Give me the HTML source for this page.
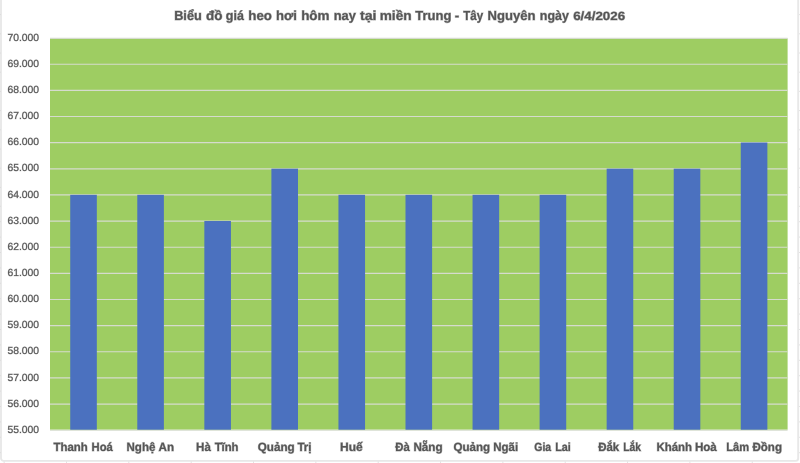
<!DOCTYPE html>
<html lang="vi">
<head>
<meta charset="utf-8">
<title>Biểu đồ giá heo hơi hôm nay tại miền Trung - Tây Nguyên ngày 6/4/2026</title>
<style>
html,body{margin:0;padding:0;background:#fff;}
body{width:800px;height:463px;overflow:hidden;position:relative;font-family:"Liberation Sans",sans-serif;}
svg{display:block;position:absolute;left:0;top:0;}
text{font-family:"Liberation Sans",sans-serif;fill:#555555;stroke:#555555;stroke-opacity:0.45;paint-order:stroke fill;white-space:pre;text-rendering:geometricPrecision;}
.t{font-weight:bold;font-size:13.2px;stroke-width:0.9px;}
.tb{font-size:12.0px;}
.y{font-size:10.3px;stroke-width:0.6px;}
.x{font-weight:bold;font-size:11.9px;stroke-width:0.9px;}
</style>
</head>
<body>
<svg width="800" height="463" viewBox="0 0 800 463">
<rect x="0" y="0" width="800" height="463" fill="#ffffff"/>
<g id="ticks" stroke="#E2E2E2" stroke-width="1">
<line x1="4.16" y1="461" x2="4.16" y2="463"/>
<line x1="66.50" y1="461" x2="66.50" y2="463"/>
<line x1="128.84" y1="461" x2="128.84" y2="463"/>
<line x1="191.18" y1="461" x2="191.18" y2="463"/>
<line x1="253.52" y1="461" x2="253.52" y2="463"/>
<line x1="315.86" y1="461" x2="315.86" y2="463"/>
<line x1="378.20" y1="461" x2="378.20" y2="463"/>
<line x1="440.54" y1="461" x2="440.54" y2="463"/>
<line x1="502.88" y1="461" x2="502.88" y2="463"/>
<line x1="565.22" y1="461" x2="565.22" y2="463"/>
<line x1="627.56" y1="461" x2="627.56" y2="463"/>
<line x1="689.90" y1="461" x2="689.90" y2="463"/>
<line x1="752.24" y1="461" x2="752.24" y2="463"/>
<line x1="798" y1="14.60" x2="800" y2="14.60"/>
<line x1="798" y1="33.80" x2="800" y2="33.80"/>
<line x1="798" y1="53.00" x2="800" y2="53.00"/>
<line x1="798" y1="72.20" x2="800" y2="72.20"/>
<line x1="798" y1="91.40" x2="800" y2="91.40"/>
<line x1="798" y1="110.60" x2="800" y2="110.60"/>
<line x1="798" y1="129.80" x2="800" y2="129.80"/>
<line x1="798" y1="149.00" x2="800" y2="149.00"/>
<line x1="798" y1="168.20" x2="800" y2="168.20"/>
<line x1="798" y1="187.40" x2="800" y2="187.40"/>
<line x1="798" y1="206.30" x2="800" y2="206.30"/>
<line x1="798" y1="221.70" x2="800" y2="221.70"/>
<line x1="798" y1="237.10" x2="800" y2="237.10"/>
<line x1="798" y1="252.50" x2="800" y2="252.50"/>
<line x1="798" y1="267.90" x2="800" y2="267.90"/>
<line x1="798" y1="283.30" x2="800" y2="283.30"/>
<line x1="798" y1="298.70" x2="800" y2="298.70"/>
<line x1="798" y1="314.10" x2="800" y2="314.10"/>
<line x1="798" y1="329.50" x2="800" y2="329.50"/>
<line x1="798" y1="344.90" x2="800" y2="344.90"/>
<line x1="798" y1="360.30" x2="800" y2="360.30"/>
<line x1="798" y1="375.70" x2="800" y2="375.70"/>
<line x1="798" y1="391.10" x2="800" y2="391.10"/>
<line x1="798" y1="406.50" x2="800" y2="406.50"/>
<line x1="798" y1="421.90" x2="800" y2="421.90"/>
<line x1="798" y1="437.30" x2="800" y2="437.30"/>
<line x1="798" y1="452.70" x2="800" y2="452.70"/>
</g>
<rect id="frame" x="1.0" y="-8" width="797.2" height="468.85" rx="2.6" ry="2.6" fill="#ffffff" stroke="#E8E8E8" stroke-width="1.9"/>
<g id="lticks" stroke="#DCDCDC" stroke-width="1"><line x1="0" y1="14.60" x2="1" y2="14.60"/><line x1="0" y1="33.80" x2="1" y2="33.80"/><line x1="0" y1="53.00" x2="1" y2="53.00"/><line x1="0" y1="72.20" x2="1" y2="72.20"/><line x1="0" y1="91.40" x2="1" y2="91.40"/><line x1="0" y1="110.60" x2="1" y2="110.60"/><line x1="0" y1="129.80" x2="1" y2="129.80"/><line x1="0" y1="149.00" x2="1" y2="149.00"/><line x1="0" y1="168.20" x2="1" y2="168.20"/><line x1="0" y1="187.40" x2="1" y2="187.40"/><line x1="0" y1="206.30" x2="1" y2="206.30"/><line x1="0" y1="221.70" x2="1" y2="221.70"/><line x1="0" y1="237.10" x2="1" y2="237.10"/><line x1="0" y1="252.50" x2="1" y2="252.50"/><line x1="0" y1="267.90" x2="1" y2="267.90"/><line x1="0" y1="283.30" x2="1" y2="283.30"/><line x1="0" y1="298.70" x2="1" y2="298.70"/><line x1="0" y1="314.10" x2="1" y2="314.10"/><line x1="0" y1="329.50" x2="1" y2="329.50"/><line x1="0" y1="344.90" x2="1" y2="344.90"/><line x1="0" y1="360.30" x2="1" y2="360.30"/><line x1="0" y1="375.70" x2="1" y2="375.70"/><line x1="0" y1="391.10" x2="1" y2="391.10"/><line x1="0" y1="406.50" x2="1" y2="406.50"/><line x1="0" y1="421.90" x2="1" y2="421.90"/><line x1="0" y1="437.30" x2="1" y2="437.30"/><line x1="0" y1="452.70" x2="1" y2="452.70"/></g>
<rect id="plot" x="50.0" y="38.5" width="737.60" height="391.20" fill="#9ECD62"/>
<g id="grid" stroke="#D5DBCD" stroke-width="1.15">
<line x1="50.0" y1="38.40" x2="787.6" y2="38.40"/>
<line x1="50.0" y1="64.24" x2="787.6" y2="64.24"/>
<line x1="50.0" y1="90.38" x2="787.6" y2="90.38"/>
<line x1="50.0" y1="116.52" x2="787.6" y2="116.52"/>
<line x1="50.0" y1="142.66" x2="787.6" y2="142.66"/>
<line x1="50.0" y1="168.80" x2="787.6" y2="168.80"/>
<line x1="50.0" y1="194.94" x2="787.6" y2="194.94"/>
<line x1="50.0" y1="221.08" x2="787.6" y2="221.08"/>
<line x1="50.0" y1="247.22" x2="787.6" y2="247.22"/>
<line x1="50.0" y1="273.36" x2="787.6" y2="273.36"/>
<line x1="50.0" y1="299.50" x2="787.6" y2="299.50"/>
<line x1="50.0" y1="325.64" x2="787.6" y2="325.64"/>
<line x1="50.0" y1="351.78" x2="787.6" y2="351.78"/>
<line x1="50.0" y1="377.92" x2="787.6" y2="377.92"/>
<line x1="50.0" y1="404.06" x2="787.6" y2="404.06"/>
<line x1="50.0" y1="430.20" x2="787.6" y2="430.20"/>
</g>
<g id="bars" fill="#4B71BF">
<rect x="70.23" y="194.84" width="26.6" height="234.86"/>
<rect x="137.28" y="194.84" width="26.6" height="234.86"/>
<rect x="204.34" y="220.98" width="26.6" height="208.72"/>
<rect x="271.39" y="168.70" width="26.6" height="261.00"/>
<rect x="338.45" y="194.84" width="26.6" height="234.86"/>
<rect x="405.50" y="194.84" width="26.6" height="234.86"/>
<rect x="472.55" y="194.84" width="26.6" height="234.86"/>
<rect x="539.61" y="194.84" width="26.6" height="234.86"/>
<rect x="606.66" y="168.70" width="26.6" height="261.00"/>
<rect x="673.72" y="168.70" width="26.6" height="261.00"/>
<rect x="740.77" y="142.56" width="26.6" height="287.14"/>
</g>
<text class="t" y="20.3"><tspan id="t0" x="174.16" textLength="27.58" lengthAdjust="spacingAndGlyphs">Biểu</tspan> <tspan id="t1" x="205.93" textLength="16.45" lengthAdjust="spacingAndGlyphs">đồ</tspan> <tspan id="t2" x="225.79" textLength="18.06" lengthAdjust="spacingAndGlyphs">giá</tspan> <tspan id="t3" x="248.31" textLength="23.61" lengthAdjust="spacingAndGlyphs">heo</tspan> <tspan id="t4" x="275.98" textLength="20.99" lengthAdjust="spacingAndGlyphs">hơi</tspan> <tspan id="t5" x="301.16" textLength="28.34" lengthAdjust="spacingAndGlyphs">hôm</tspan> <tspan id="t6" x="333.68" textLength="22.12" lengthAdjust="spacingAndGlyphs">nay</tspan> <tspan id="t7" x="359.95" textLength="16.50" lengthAdjust="spacingAndGlyphs">tại</tspan> <tspan id="t8" x="379.71" textLength="31.88" lengthAdjust="spacingAndGlyphs">miền</tspan> <tspan id="t9" x="415.35" textLength="36.08" lengthAdjust="spacingAndGlyphs">Trung</tspan> <tspan id="t10" x="454.72" textLength="4.45" lengthAdjust="spacingAndGlyphs">-</tspan> <tspan id="t11" x="463.20" textLength="19.85" lengthAdjust="spacingAndGlyphs">Tây</tspan> <tspan id="t12" x="487.53" textLength="48.04" lengthAdjust="spacingAndGlyphs">Nguyên</tspan> <tspan id="t13" x="539.83" textLength="29.02" lengthAdjust="spacingAndGlyphs">ngày</tspan> <tspan id="t14" class="tb" x="573.19" textLength="51.86" lengthAdjust="spacingAndGlyphs">6/4/2026</tspan></text>
<g id="yaxis">
<text class="y" y="40.70"><tspan id="y0" x="7.44" textLength="31.62" lengthAdjust="spacingAndGlyphs">70.000</tspan></text>
<text class="y" y="66.84"><tspan id="y1" x="7.44" textLength="31.62" lengthAdjust="spacingAndGlyphs">69.000</tspan></text>
<text class="y" y="92.98"><tspan id="y2" x="7.44" textLength="31.62" lengthAdjust="spacingAndGlyphs">68.000</tspan></text>
<text class="y" y="119.12"><tspan id="y3" x="7.44" textLength="31.62" lengthAdjust="spacingAndGlyphs">67.000</tspan></text>
<text class="y" y="145.26"><tspan id="y4" x="7.44" textLength="31.62" lengthAdjust="spacingAndGlyphs">66.000</tspan></text>
<text class="y" y="171.40"><tspan id="y5" x="7.44" textLength="31.62" lengthAdjust="spacingAndGlyphs">65.000</tspan></text>
<text class="y" y="197.54"><tspan id="y6" x="7.44" textLength="31.62" lengthAdjust="spacingAndGlyphs">64.000</tspan></text>
<text class="y" y="223.68"><tspan id="y7" x="7.44" textLength="31.62" lengthAdjust="spacingAndGlyphs">63.000</tspan></text>
<text class="y" y="249.82"><tspan id="y8" x="7.44" textLength="31.62" lengthAdjust="spacingAndGlyphs">62.000</tspan></text>
<text class="y" y="275.96"><tspan id="y9" x="7.44" textLength="31.62" lengthAdjust="spacingAndGlyphs">61.000</tspan></text>
<text class="y" y="302.10"><tspan id="y10" x="7.44" textLength="31.62" lengthAdjust="spacingAndGlyphs">60.000</tspan></text>
<text class="y" y="328.24"><tspan id="y11" x="7.44" textLength="31.62" lengthAdjust="spacingAndGlyphs">59.000</tspan></text>
<text class="y" y="354.38"><tspan id="y12" x="7.44" textLength="31.62" lengthAdjust="spacingAndGlyphs">58.000</tspan></text>
<text class="y" y="380.52"><tspan id="y13" x="7.44" textLength="31.62" lengthAdjust="spacingAndGlyphs">57.000</tspan></text>
<text class="y" y="406.66"><tspan id="y14" x="7.44" textLength="31.62" lengthAdjust="spacingAndGlyphs">56.000</tspan></text>
<text class="y" y="432.80"><tspan id="y15" x="7.44" textLength="31.62" lengthAdjust="spacingAndGlyphs">55.000</tspan></text>
</g>
<g id="xaxis">
<text class="x" y="451.0"><tspan id="x0_0" x="53.55" textLength="34.27" lengthAdjust="spacingAndGlyphs">Thanh</tspan> <tspan id="x0_1" x="91.54" textLength="21.21" lengthAdjust="spacingAndGlyphs">Hoá</tspan></text>
<text class="x" y="451.0"><tspan id="x1_0" x="126.53" textLength="28.88" lengthAdjust="spacingAndGlyphs">Nghệ</tspan> <tspan id="x1_1" x="158.59" textLength="15.50" lengthAdjust="spacingAndGlyphs">An</tspan></text>
<text class="x" y="451.0"><tspan id="x2_0" x="196.12" textLength="14.73" lengthAdjust="spacingAndGlyphs">Hà</tspan> <tspan id="x2_1" x="214.70" textLength="23.81" lengthAdjust="spacingAndGlyphs">Tĩnh</tspan></text>
<text class="x" y="451.0"><tspan id="x3_0" x="257.74" textLength="36.87" lengthAdjust="spacingAndGlyphs">Quảng</tspan> <tspan id="x3_1" x="297.45" textLength="14.14" lengthAdjust="spacingAndGlyphs">Trị</tspan></text>
<text class="x" y="451.0"><tspan id="x4_0" x="339.97" textLength="22.67" lengthAdjust="spacingAndGlyphs">Huế</tspan></text>
<text class="x" y="451.0"><tspan id="x5_0" x="395.30" textLength="14.50" lengthAdjust="spacingAndGlyphs">Đà</tspan> <tspan id="x5_1" x="413.42" textLength="29.22" lengthAdjust="spacingAndGlyphs">Nẵng</tspan></text>
<text class="x" y="451.0"><tspan id="x6_0" x="453.59" textLength="36.58" lengthAdjust="spacingAndGlyphs">Quảng</tspan> <tspan id="x6_1" x="493.32" textLength="24.86" lengthAdjust="spacingAndGlyphs">Ngãi</tspan></text>
<text class="x" y="451.0"><tspan id="x7_0" x="534.25" textLength="16.85" lengthAdjust="spacingAndGlyphs">Gia</tspan> <tspan id="x7_1" x="555.29" textLength="15.57" lengthAdjust="spacingAndGlyphs">Lai</tspan></text>
<text class="x" y="451.0"><tspan id="x8_0" x="598.25" textLength="21.00" lengthAdjust="spacingAndGlyphs">Đắk</tspan> <tspan id="x8_1" x="623.18" textLength="17.67" lengthAdjust="spacingAndGlyphs">Lắk</tspan></text>
<text class="x" y="451.0"><tspan id="x9_0" x="656.38" textLength="35.64" lengthAdjust="spacingAndGlyphs">Khánh</tspan> <tspan id="x9_1" x="694.88" textLength="21.97" lengthAdjust="spacingAndGlyphs">Hoà</tspan></text>
<text class="x" y="451.0"><tspan id="x10_0" x="726.22" textLength="22.86" lengthAdjust="spacingAndGlyphs">Lâm</tspan> <tspan id="x10_1" x="752.40" textLength="29.62" lengthAdjust="spacingAndGlyphs">Đồng</tspan></text>
</g>
</svg>
</body>
</html>
